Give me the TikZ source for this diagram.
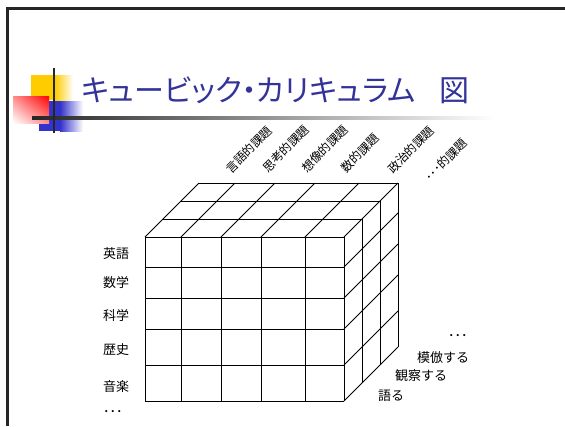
\documentclass[tikz,border=0pt]{standalone}
\usepackage{fontspec}
\usetikzlibrary{shadings}
\setmainfont{Noto Sans CJK JP}
\newfontfamily\titlefont[RawFeature=+palt]{Noto Sans CJK JP}
\definecolor{titleblue}{RGB}{51,51,153}
\definecolor{sqyellow}{RGB}{255,204,0}
\definecolor{sqblue}{RGB}{51,51,204}
\begin{document}
\begin{tikzpicture}[x=1pt,y=-1pt,
  grid/.style={line width=0.8pt,black},
  lab/.style={inner sep=0pt,font=\fontsize{13}{15}\selectfont,anchor=west},
  diag/.style={inner sep=0pt,rotate=45,font=\fontsize{12}{13}\selectfont}]
\useasboundingbox (0,0) rectangle (565,426);
\fill[white] (0,0) rectangle (565,426);
% slide frame
\draw[line width=2.5pt,black!85] (7.5,426) -- (7.5,8.5) -- (565,8.5);
% decoration
\fill[sqyellow] (31,75) rectangle (55,100);
\shade[left color=sqyellow,right color=white] (55,75) rectangle (73,100);
\fill[sqblue] (39,101) rectangle (60,131);
\shade[left color=sqblue,right color=white] (60,101) rectangle (83,131);
\shade[upper left=red!45,upper right=red,lower left=white,lower right=red!45] (13,96) rectangle (49,123);
\shade[left color=black!85,right color=white] (32,116.8) rectangle (495,119.2);
\draw[line width=2pt,black!85] (54,68) -- (54,133);
% title
\node[inner sep=0pt,anchor=west,text=titleblue,font=\titlefont\fontsize{30}{32}\selectfont] (title) at (81,90) {キュービック・カリキュラム\hspace{24pt}図};
% cube: front face
\foreach \x in {145,181,221,261,305,344} \draw[grid] (\x,237) -- (\x,401);
\foreach \y in {237,267,298,329,365,401} \draw[grid] (145,\y) -- (344,\y);
% top face
\foreach \d in {18,36,54} \draw[grid] (145+\d,237-\d) -- (344+\d,237-\d);
\foreach \x in {145,181,221,261,305,344} \draw[grid] (\x,237) -- ++(54,-54);
% right face
\foreach \d in {18,36,54} \draw[grid] (344+\d,237-\d) -- (344+\d,401-\d);
\foreach \y in {267,298,329,365,401} \draw[grid] (344,\y) -- ++(54,-54);
% left labels
\node[lab] (eigo) at (103,254) {英語};
\node[lab] (suugaku) at (103,283) {数学};
\node[lab] (kagaku) at (103,316) {科学};
\node[lab] (rekishi) at (103,350) {歴史};
\node[lab] (ongaku) at (103,387) {音楽};
\node[lab] (ldots) at (103,413) {･･･};
% right labels
\node[lab] (kataru) at (378,396) {語る};
\node[lab] (kansatsu) at (395,376) {観察する};
\node[lab] (mohou) at (417,358) {模倣する};
\node[lab] (rdots) at (448,337) {･･･};
% top labels
\node[diag] (gengo) at (249,150) {言語的課題};
\node[diag] (shikou) at (286,149) {思考的課題};
\node[diag] (souzou) at (325,149) {想像的課題};
\node[diag] (suuteki) at (360,153) {数的課題};
\node[diag] (seiji) at (411,150) {政治的課題};
\node[diag] (tdots) at (446,160) {･･･的課題};
\end{tikzpicture}
\end{document}
